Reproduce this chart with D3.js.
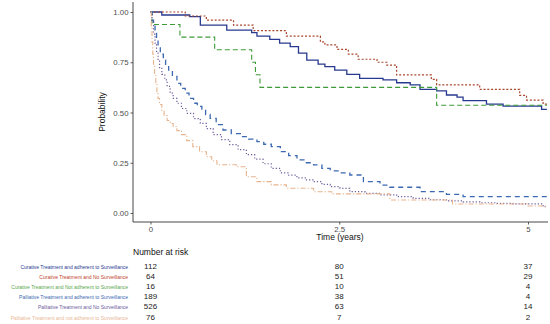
<!DOCTYPE html>
<html>
<head>
<meta charset="utf-8">
<script src="https://cdn.jsdelivr.net/npm/d3@7"></script>
<style>
  html, body { margin: 0; padding: 0; background: #fff; }
  text { font-family: "Liberation Sans", Arial, sans-serif; }
</style>
</head>
<body>
<div id="chart"></div>
<script>
const width = 550;
const height = 324;

// group labels and risk table
const groups = [
  "Curative Treatment and adherent to Surveillance",
  "Curative Treatment and No Surveillance",
  "Curative Treatment and Not adherent to Surveillance",
  "Palliative Treatment and adherent to Surveillance",
  "Palliative Treatment and No Surveillance",
  "Palliative Treatment and not adherent to Surveillance"
];
const riskTimes = [0, 2.5, 5];
const atRisk = [
  [112, 80, 37],
  [64, 51, 29],
  [16, 10, 4],
  [189, 38, 4],
  [526, 63, 14],
  [76, 7, 2]
];
const xTicks = [0, 2.5, 5];
const yTicks = [0, 0.25, 0.5, 0.75, 1];

// KM step points (time in years, survival)
const timeCA = [0, 0.15, 0.52, 0.66, 1.01, 1.34, 1.41, 1.58, 1.71, 1.85, 1.96, 2.07, 2.22, 2.31, 2.44, 2.60, 2.77, 3.08, 3.26, 3.44, 3.57, 3.79, 3.92, 4.06, 4.14, 4.45, 4.67, 5.18];
const survCA = [1.0, 0.985, 0.977, 0.935, 0.91, 0.897, 0.88, 0.864, 0.845, 0.828, 0.795, 0.761, 0.741, 0.728, 0.711, 0.69, 0.67, 0.662, 0.648, 0.637, 0.615, 0.608, 0.587, 0.576, 0.559, 0.542, 0.532, 0.516];

const timeCN = [0, 0.46, 0.74, 1.10, 1.36, 1.80, 2.25, 2.31, 2.47, 2.62, 2.75, 3.0, 3.13, 3.26, 3.72, 3.79, 4.36, 4.89, 4.98, 5.20];
const survCN = [1, 0.98, 0.96, 0.935, 0.907, 0.88, 0.851, 0.836, 0.814, 0.79, 0.765, 0.75, 0.736, 0.687, 0.665, 0.637, 0.615, 0.585, 0.562, 0.542];

const timeCX = [0, 0.02, 0.39, 0.85, 1.34, 1.39, 1.45, 3.79];
const survCX = [1, 0.9375, 0.875, 0.8125, 0.75, 0.6875, 0.625, 0.536];

const timePA = [0, 0.02, 0.04, 0.06, 0.08, 0.10, 0.13, 0.17, 0.20, 0.24, 0.29, 0.35, 0.40, 0.46, 0.51, 0.57, 0.62, 0.68, 0.73, 0.79, 0.87, 0.96, 1.07, 1.19, 1.30, 1.41, 1.50, 1.60, 1.72, 1.83, 1.94, 2.05, 2.16, 2.27, 2.38, 2.51, 2.64, 2.82, 3.04, 3.17, 3.57, 3.92, 4.14];
const survPA = [1, 0.96, 0.93, 0.894, 0.86, 0.83, 0.79, 0.761, 0.735, 0.711, 0.68, 0.645, 0.62, 0.596, 0.57, 0.546, 0.53, 0.512, 0.49, 0.471, 0.44, 0.413, 0.395, 0.38, 0.368, 0.355, 0.342, 0.33, 0.305, 0.285, 0.264, 0.25, 0.239, 0.222, 0.21, 0.2, 0.189, 0.156, 0.139, 0.128, 0.106, 0.093, 0.081];

const timePN = [0, 0.02, 0.04, 0.06, 0.08, 0.10, 0.12, 0.15, 0.19, 0.22, 0.26, 0.30, 0.35, 0.41, 0.48, 0.57, 0.66, 0.74, 0.83, 0.94, 1.05, 1.16, 1.27, 1.38, 1.49, 1.60, 1.72, 1.83, 1.94, 2.05, 2.16, 2.27, 2.38, 2.51, 2.64, 2.84, 3.04, 3.26, 3.48, 3.70, 3.92, 4.14, 4.36, 4.58, 4.8, 5.2];
const survPN = [1, 0.95, 0.89, 0.845, 0.80, 0.76, 0.72, 0.69, 0.662, 0.63, 0.596, 0.57, 0.546, 0.52, 0.496, 0.47, 0.446, 0.42, 0.39, 0.365, 0.34, 0.315, 0.29, 0.268, 0.245, 0.222, 0.2, 0.188, 0.175, 0.165, 0.156, 0.142, 0.131, 0.123, 0.106, 0.098, 0.09, 0.081, 0.073, 0.066, 0.06, 0.055, 0.051, 0.048, 0.045, 0.031];

const timePX = [0, 0.01, 0.02, 0.03, 0.04, 0.055, 0.07, 0.085, 0.10, 0.12, 0.15, 0.18, 0.22, 0.26, 0.30, 0.35, 0.41, 0.48, 0.56, 0.65, 0.74, 0.81, 0.88, 1.14, 1.27, 1.41, 1.60, 1.80, 2.16, 2.40, 3.17, 4.0, 5.0];
const survPX = [1, 0.93, 0.85, 0.79, 0.74, 0.69, 0.64, 0.60, 0.57, 0.54, 0.51, 0.485, 0.46, 0.445, 0.43, 0.41, 0.39, 0.36, 0.33, 0.305, 0.28, 0.26, 0.24, 0.23, 0.18, 0.156, 0.14, 0.123, 0.106, 0.095, 0.065, 0.045, 0.035];

const tEnd = 5.25;

const styles = [
  { color: "#283a8f", dash: null, w: 1.3 },
  { color: "#a9472f", dash: "2,1.8", w: 1.2 },
  { color: "#3d9a36", dash: "5,3", w: 1.1 },
  { color: "#3c69b1", dash: "5,4", w: 1.3 },
  { color: "#6c5b9b", dash: "1.2,2", w: 1.2 },
  { color: "#e7b48e", dash: "5,2,1.2,2", w: 1.1 }
];
const labelColors = ["#283a8f", "#c0432b", "#58a84a", "#3c69b1", "#6c5b9b", "#e9b896"];

const series = [
  [timeCA, survCA], [timeCN, survCN], [timeCX, survCX],
  [timePA, survPA], [timePN, survPN], [timePX, survPX]
].map(([t, s]) => {
  const pts = t.map((d, i) => [d, s[i]]);
  pts.push([tEnd, s[s.length - 1]]);
  return pts;
});

const x = d3.scaleLinear().domain([0, 5]).range([150.5, 528]);
const y = d3.scaleLinear().domain([0, 1]).range([213, 12]);

const svg = d3.select("#chart").append("svg")
  .attr("width", width)
  .attr("height", height);

// axes
const axisColor = "#333";
const xAxis = svg.append("g").attr("transform", "translate(0,222)")
  .call(d3.axisBottom(x).tickValues(xTicks).tickSize(2.5).tickPadding(1.5).tickFormat(d => d === 2.5 ? "2.5" : d3.format("d")(d)));
xAxis.select(".domain").attr("d", `M133,0H548`);
const yAxis = svg.append("g").attr("transform", "translate(133,0)")
  .call(d3.axisLeft(y).tickValues(yTicks).tickSize(2.5).tickPadding(2).tickFormat(d3.format(".2f")));
yAxis.select(".domain").attr("d", `M0,2V222`);
svg.selectAll(".domain").attr("stroke", axisColor).attr("stroke-width", 0.9);
svg.selectAll(".tick line").attr("stroke", axisColor).attr("stroke-width", 0.8);
svg.selectAll(".tick text").attr("fill", "#4d4d4d").style("font-size", "7.8px");

svg.append("text")
  .attr("transform", "translate(105,112) rotate(-90)")
  .attr("text-anchor", "middle")
  .style("font-size", "8.5px")
  .attr("fill", "#111")
  .text("Probability");

svg.append("text")
  .attr("x", 340).attr("y", 240)
  .attr("text-anchor", "middle")
  .style("font-size", "8.5px")
  .attr("fill", "#111")
  .text("Time (years)");

// curves
const line = d3.line()
  .x(d => x(d[0]))
  .y(d => y(d[1]))
  .curve(d3.curveStepAfter);

svg.append("g").selectAll("path")
  .data(series)
  .join("path")
  .attr("d", line)
  .attr("fill", "none")
  .attr("stroke", (d, i) => styles[i].color)
  .attr("stroke-width", (d, i) => styles[i].w)
  .attr("stroke-dasharray", (d, i) => styles[i].dash);

// risk table
svg.append("text")
  .attr("x", 133).attr("y", 255)
  .style("font-size", "8.5px")
  .attr("fill", "#111")
  .text("Number at risk");

const rowY = d3.scaleLinear().domain([0, 5]).range([268.5, 319.5]);

svg.append("g").selectAll("text")
  .data(groups)
  .join("text")
  .attr("x", 128)
  .attr("y", (d, i) => rowY(i))
  .attr("text-anchor", "end")
  .style("font-size", "5px")
  .attr("fill", (d, i) => labelColors[i])
  .text(d => d);

atRisk.forEach((row, i) => {
  svg.append("g").selectAll("text")
    .data(row)
    .join("text")
    .attr("x", (d, j) => x(riskTimes[j]))
    .attr("y", rowY(i))
    .attr("text-anchor", "middle")
    .style("font-size", "8px")
    .attr("fill", "#222")
    .text(d => d);
});
</script>
</body>
</html>
